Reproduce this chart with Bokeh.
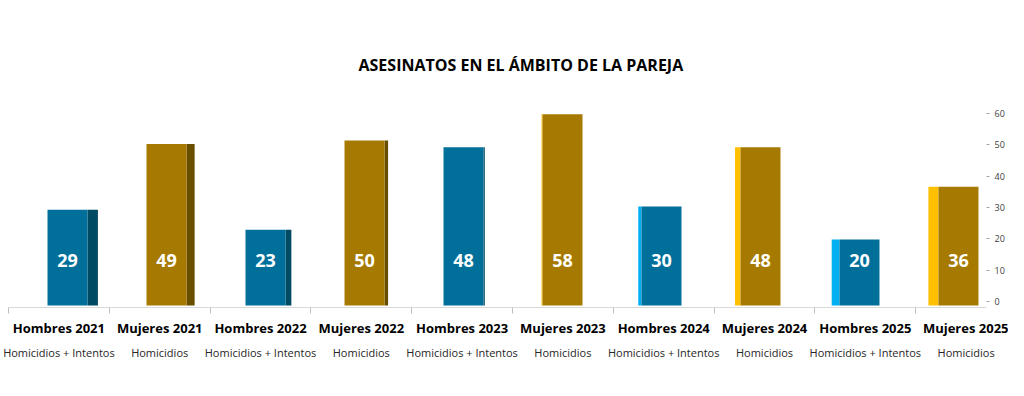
from bokeh.plotting import figure
from bokeh.models import (ColumnDataSource, Range1d, LinearAxis, FixedTicker,
                          SingleIntervalTicker, Title)
from bokeh.core.properties import value
from bokeh.embed import file_html
from bokeh.resources import INLINE

# ---- data ----
categories = ["Hombres 2021", "Mujeres 2021", "Hombres 2022", "Mujeres 2022",
              "Hombres 2023", "Mujeres 2023", "Hombres 2024", "Mujeres 2024",
              "Hombres 2025", "Mujeres 2025"]
sublabels = ["Homicidios + Intentos", "Homicidios"] * 5
values = [29, 49, 23, 50, 48, 58, 30, 48, 20, 36]
groups = ["H", "M"] * 5

# ---- styles ----
FRONT = {"H": "#00709A", "M": "#A67A00"}
SIDE_DARK = {"H": "#004A64", "M": "#6A4E00"}
SIDE_LIGHT = {"H": "#00B0F0", "M": "#FFC000"}
HALF = 0.202          # half width of bar front (data units)
VX = 4.576            # perspective vanishing point (data units)
PERSP = 0.023

xs = list(range(len(values)))
depth = [(VX - x) * PERSP for x in xs]
side_left, side_right, side_color = [], [], []
for x, d, g in zip(xs, depth, groups):
    if d >= 0:
        side_left.append(x + HALF); side_right.append(x + HALF + d)
        side_color.append(SIDE_DARK[g])
    else:
        side_left.append(x - HALF + d); side_right.append(x - HALF)
        side_color.append(SIDE_LIGHT[g])

src = ColumnDataSource(dict(
    x=xs, top=values, left=[x - HALF for x in xs], right=[x + HALF for x in xs],
    sl=side_left, sr=side_right, scol=side_color,
    fcol=[FRONT[g] for g in groups], label=[str(v) for v in values],
    ly=[13.6] * len(values)))

W, H = 1008, 380
p = figure(width=W, height=H, output_backend="svg", toolbar_location=None,
           x_range=Range1d(-0.596, 9.283), y_range=Range1d(-0.6, 65.8),
           x_axis_location=None, y_axis_location=None,
           min_border_left=8, min_border_right=22, min_border_top=88,
           min_border_bottom=73, title=None)
p.outline_line_color = None
p.xgrid.visible = False
p.ygrid.visible = False
p.background_fill_color = "white"
p.border_fill_color = "white"

p.extra_x_ranges = {"cat": Range1d(0, 978 / 100.8)}
p.extra_y_ranges = {"ax": Range1d(-1.915, 67.98)}

# bars
p.quad(left="sl", right="sr", bottom=0, top="top", fill_color="scol",
       line_color=None, source=src)
p.quad(left="left", right="right", bottom=0, top="top", fill_color="fcol",
       line_color=None, source=src)
p.text(x="x", y="ly", text="label", source=src, text_color="white",
       text_font=value("Open Sans"), text_font_style="bold",
       text_font_size="18px", text_align="center", text_baseline="middle")

# title
t = Title(text="ASESINATOS EN EL ÁMBITO DE LA PAREJA", align="left",
          text_font="Open Sans", text_font_style="bold", text_font_size="16px",
          text_color="#000000", standoff=25, offset=350)
p.add_layout(t, "above")

# separator axis
n = len(categories)
ax_sep = LinearAxis(x_range_name="cat", ticker=FixedTicker(ticks=list(range(n))),
                    axis_line_color="#d9d9d9", major_tick_line_color="#bfbfbf",
                    major_tick_out=6, major_tick_in=0,
                    minor_tick_line_color=None, major_label_text_font_size="1px",
                    major_label_standoff=0,
                    major_label_overrides={i: "" for i in range(n)})
p.add_layout(ax_sep, "below")

centers = [i + 0.5 for i in range(n)]
ax_cat = LinearAxis(x_range_name="cat", ticker=FixedTicker(ticks=centers),
                    axis_line_color=None, major_tick_line_color=None,
                    major_tick_out=0, major_tick_in=0, minor_tick_line_color=None,
                    major_label_standoff=5,
                    major_label_overrides={c: lab for c, lab in zip(centers, categories)},
                    major_label_text_font="Open Sans",
                    major_label_text_font_style="bold",
                    major_label_text_font_size="13px",
                    major_label_text_color="#000000")
p.add_layout(ax_cat, "below")

ax_sub = LinearAxis(x_range_name="cat", ticker=FixedTicker(ticks=centers),
                    axis_line_color=None, major_tick_line_color=None,
                    major_tick_out=0, major_tick_in=0, minor_tick_line_color=None,
                    major_label_standoff=5,
                    major_label_overrides={c: lab for c, lab in zip(centers, sublabels)},
                    major_label_text_font="Open Sans",
                    major_label_text_font_style="normal",
                    major_label_text_font_size="11px",
                    major_label_text_color="#262626")
p.add_layout(ax_sub, "below")

# right value axis
ax_r = LinearAxis(y_range_name="ax", ticker=SingleIntervalTicker(interval=10),
                  axis_line_color=None, major_tick_line_color="#a6a6a6",
                  major_tick_out=3, major_tick_in=0, minor_tick_line_color=None,
                  major_label_standoff=4, major_label_text_font="Open Sans",
                  major_label_text_font_size="9px",
                  major_label_text_color="#404040")
p.add_layout(ax_r, "right")

open("out.html", "w").write(file_html(p, INLINE))
